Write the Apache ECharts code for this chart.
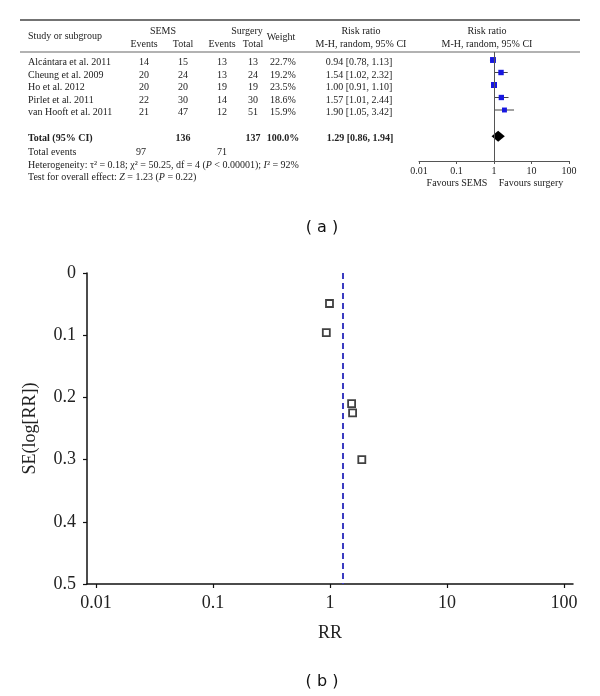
<!DOCTYPE html>
<html><head><meta charset="utf-8">
<script src="https://cdn.jsdelivr.net/npm/echarts@6/dist/echarts.min.js"></script>
<style>html,body{margin:0;padding:0;background:#fff}#c{width:600px;height:696px}</style>
</head><body><div id="c"></div>
<script>
// ---- data ----
const studies = ['Alcántara et al. 2011','Cheung et al. 2009','Ho et al. 2012','Pirlet et al. 2011','van Hooft et al. 2011'];
const semsEvents = [14,20,20,22,21];
const semsTotal = [15,24,20,30,47];
const surgEvents = [13,13,19,14,12];
const surgTotal = [13,24,19,30,51];
const weights = [22.7,19.2,23.5,18.6,15.9];
const rr = [0.94,1.54,1.00,1.57,1.90];
const ciLow = [0.78,1.02,0.91,1.01,1.05];
const ciHigh = [1.13,2.32,1.10,2.44,3.42];
const totals = [136,137];
const totalEvents = [97,71];
const pooled = [1.29,0.86,1.94];
const forestTicks = [0.01,0.1,1,10,100];
const funnelRR = [0.93,1.53,0.99,1.56,1.87];
const funnelSE = [0.096,0.21,0.049,0.225,0.30];
const funnelTicks = [0.01,0.1,1,10,100];

// ---- layout helpers ----
const SERIF = 'Liberation Serif';
const FS = 10;
const rowY0 = 60, rowStep = 12.5;
function txt(t, x, y, opt) {
  opt = opt || {};
  return {type:'text', silent:true, style:{text:t, x:x, y:y, font:(opt.bold?'bold ':'')+(opt.size||FS)+'px "'+(opt.family||SERIF)+'"',
    fill:opt.color||'#222', align:opt.align||'center', verticalAlign:'middle', rich:opt.rich}};
}
const fmt = v => v.toFixed(2);
const g = [];
g.push({type:'line', silent:true, shape:{x1:20,y1:20,x2:580,y2:20}, style:{stroke:'#444', lineWidth:1.3}});
g.push({type:'line', silent:true, shape:{x1:20,y1:52,x2:580,y2:52}, style:{stroke:'#666', lineWidth:1.2}});
g.push(txt('Study or subgroup', 28, 36, {align:'left'}));
g.push(txt('SEMS', 163, 31));
g.push(txt('Events', 144, 44));
g.push(txt('Total', 183, 44));
g.push(txt('Surgery', 247, 31));
g.push(txt('Events', 222, 44));
g.push(txt('Total', 253, 44));
g.push(txt('Weight', 281, 37));
g.push(txt('Risk ratio', 361, 31));
g.push(txt('M-H, random, 95% CI', 361, 44));
g.push(txt('Risk ratio', 487, 31));
g.push(txt('M-H, random, 95% CI', 487, 44));
studies.forEach((s,i) => {
  const y = rowY0 + rowStep*i + 2.5;
  g.push(txt(s, 28, y, {align:'left'}));
  g.push(txt(String(semsEvents[i]), 144, y));
  g.push(txt(String(semsTotal[i]), 183, y));
  g.push(txt(String(surgEvents[i]), 222, y));
  g.push(txt(String(surgTotal[i]), 253, y));
  g.push(txt(weights[i].toFixed(1)+'%', 283, y));
  g.push(txt(fmt(rr[i])+' ['+fmt(ciLow[i])+', '+fmt(ciHigh[i])+']', 359, y));
});
const ty = 138;
g.push(txt('Total (95% CI)', 28, ty, {align:'left', bold:true}));
g.push(txt(String(totals[0]), 183, ty, {bold:true}));
g.push(txt(String(totals[1]), 253, ty, {bold:true}));
g.push(txt('100.0%', 283, ty, {bold:true}));
g.push(txt(fmt(pooled[0])+' ['+fmt(pooled[1])+', '+fmt(pooled[2])+']', 360, ty, {bold:true}));
g.push(txt('Total events', 28, 152, {align:'left'}));
g.push(txt(String(totalEvents[0]), 141, 152));
g.push(txt(String(totalEvents[1]), 222, 152));
const rich = {i:{font:'italic '+FS+'px "'+SERIF+'"', fill:'#222'}};
g.push(txt('Heterogeneity: τ² = 0.18; χ² = 50.25, df = 4 ({i|P} < 0.00001); {i|I}² = 92%', 28, 165, {align:'left', rich:rich}));
g.push(txt('Test for overall effect: {i|Z} = 1.23 ({i|P} = 0.22)', 28, 177, {align:'left', rich:rich}));
g.push(txt('Favours SEMS', 457, 183));
g.push(txt('Favours surgery', 531, 183));
g.push(txt('( a )', 322, 228, {family:'DejaVu Sans', size:16, color:'#111'}));
g.push(txt('( b )', 322, 682, {family:'DejaVu Sans', size:16, color:'#111'}));

const forestData = studies.map((s,i) => [rr[i], ciLow[i], ciHigh[i], i, weights[i]]);
const funnelData = funnelRR.map((v,i) => [v, funnelSE[i]]);
const fMin = Math.pow(10, -2.077), fMax = Math.pow(10, 2.077);

const chart = echarts.init(document.getElementById('c'), null, {renderer:'canvas'});
chart.setOption({
  animation:false,
  backgroundColor:'#fff',
  graphic:g,
  grid:[
    {left:419, right:31, top:52, bottom:696-161},
    {left:87, right:27, top:273, bottom:696-584}
  ],
  xAxis:[
    {type:'log', logBase:10, gridIndex:0, min:0.01, max:100, position:'bottom',
     axisLine:{onZero:false, lineStyle:{color:'#555', width:1}},
     axisTick:{customValues:forestTicks, length:3, lineStyle:{color:'#555'}},
     axisLabel:{customValues:forestTicks, formatter:v=>String(+v.toPrecision(2)), fontFamily:SERIF, fontSize:10, color:'#222', margin:5},
     splitLine:{show:false}},
    {type:'log', logBase:10, gridIndex:1, min:fMin, max:fMax, position:'bottom',
     name:'RR', nameLocation:'middle', nameGap:40,
     nameTextStyle:{fontFamily:SERIF, fontSize:18, color:'#222'},
     axisLine:{onZero:false, lineStyle:{color:'#111', width:1.5}},
     axisTick:{customValues:funnelTicks, length:4, lineStyle:{color:'#111', width:1.2}},
     axisLabel:{customValues:funnelTicks, formatter:v=>String(+v.toPrecision(2)), fontFamily:SERIF, fontSize:18, color:'#222', margin:10},
     splitLine:{show:false}}
  ],
  yAxis:[
    {type:'value', gridIndex:0, min:-0.64, max:8.08, inverse:true, show:false},
    {type:'value', gridIndex:1, min:0, max:0.5, interval:0.1, inverse:true,
     name:'SE(log[RR])', nameLocation:'middle', nameGap:48, nameRotate:90,
     nameTextStyle:{fontFamily:SERIF, fontSize:18, color:'#222'},
     axisLine:{show:true, onZero:false, lineStyle:{color:'#111', width:1.5}},
     axisTick:{show:true, length:4, lineStyle:{color:'#111', width:1.2}},
     axisLabel:{fontFamily:SERIF, fontSize:18, color:'#222', margin:11, formatter:v=>String(+v.toFixed(1))},
     splitLine:{show:false}}
  ],
  series:[
    {type:'custom', xAxisIndex:0, yAxisIndex:0, data:forestData, silent:true,
     renderItem:function(params, api){
       const c = api.coord([api.value(0), api.value(3)]);
       const l = api.coord([api.value(1), api.value(3)]);
       const h = api.coord([api.value(2), api.value(3)]);
       const s = 6*Math.sqrt(api.value(4)/23.5);
       return {type:'group', children:[
         {type:'line', shape:{x1:l[0],y1:l[1],x2:h[0],y2:h[1]}, style:{stroke:'#444', lineWidth:1}},
         {type:'rect', shape:{x:c[0]-s/2, y:c[1]-s/2, width:s, height:s}, style:{fill:'#1717e0'}}
       ]};
     },
     markLine:{silent:true, symbol:'none', label:{show:false}, lineStyle:{color:'#555', width:1, type:'solid'}, data:[{xAxis:1}]}
    },
    {type:'custom', xAxisIndex:0, yAxisIndex:0, data:[[pooled[0], pooled[1], pooled[2], 6.1]], silent:true,
     renderItem:function(params, api){
       const c = api.coord([api.value(0), api.value(3)]);
       const l = api.coord([api.value(1), api.value(3)]);
       const h = api.coord([api.value(2), api.value(3)]);
       return {type:'polygon', shape:{points:[[l[0],l[1]],[c[0],c[1]-5.5],[h[0],h[1]],[c[0],c[1]+5.5]]}, style:{fill:'#000'}};
     }
    },
    {type:'scatter', xAxisIndex:1, yAxisIndex:1, data:funnelData, symbol:'rect', symbolSize:7,
     itemStyle:{color:'#fff', borderColor:'#111', borderWidth:1.8},
     markLine:{silent:true, symbol:'none', label:{show:false}, lineStyle:{color:'#3c3cc0', width:2, type:[6,4]}, data:[{xAxis:pooled[0]}]}
    }
  ]
});
</script>
</body></html>
